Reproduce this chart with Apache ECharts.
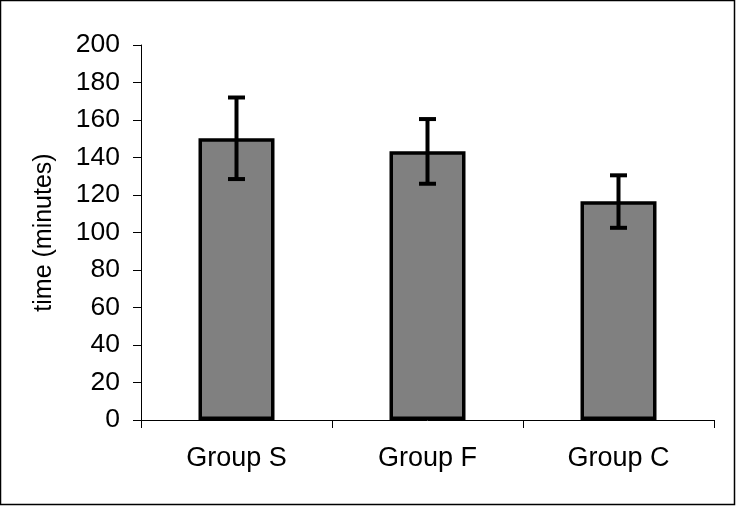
<!DOCTYPE html>
<html><head><meta charset="utf-8">
<script src="https://cdn.jsdelivr.net/npm/echarts@6/dist/echarts.min.js"></script>
<style>html,body{margin:0;padding:0;background:#fff}#c{width:736px;height:506px}</style>
</head><body><div id="c"></div>
<script>
var categories = ['Group S', 'Group F', 'Group C'];
var means = [150.3, 143.3, 116.7];
var errLow = [128.5, 126, 102.5];
var errHigh = [172, 160.5, 130.5];
var yTicks = {min: 0, max: 200, interval: 20};

var chart = echarts.init(document.getElementById('c'), null, {renderer: 'canvas'});
var font = '"Liberation Sans", Arial, Helvetica, sans-serif';
chart.setOption({
  animation: false,
  backgroundColor: '#fff',
  graphic: [{type: 'rect', shape: {x: 0.5, y: 0.5, width: 734, height: 504}, style: {fill: 'none', stroke: '#000', lineWidth: 1.5}, silent: true}],
  grid: {left: 141, right: 22, top: 45, bottom: 86},
  xAxis: {
    type: 'category', data: categories,
    axisLine: {lineStyle: {color: '#000', width: 1}},
    axisTick: {show: true, length: 8, lineStyle: {color: '#000'}},
    axisLabel: {color: '#000', fontSize: 27, fontFamily: font, margin: 25}
  },
  yAxis: {
    type: 'value', min: yTicks.min, max: yTicks.max, interval: yTicks.interval,
    name: 'time (minutes)', nameLocation: 'middle', nameGap: 84,
    nameTextStyle: {color: '#000', fontSize: 25, fontFamily: font},
    axisLine: {show: true, lineStyle: {color: '#000', width: 1}},
    axisTick: {show: true, length: 8, lineStyle: {color: '#000'}},
    axisLabel: {color: '#000', fontSize: 26.5, fontFamily: font, margin: 21},
    splitLine: {show: false}
  },
  series: [{
    type: 'bar', data: means, barWidth: 76,
    itemStyle: {color: '#808080', borderColor: '#000', borderWidth: 3.5}
  }, {
    type: 'custom',
    data: categories.map(function (c, i) { return [i, errLow[i], errHigh[i]]; }),
    renderItem: function (params, api) {
      var lo = api.coord([api.value(0), api.value(1)]);
      var hi = api.coord([api.value(0), api.value(2)]);
      var hw = 8.5;
      var st = {stroke: '#000', lineWidth: 4};
      return {type: 'group', children: [
        {type: 'line', shape: {x1: hi[0], y1: hi[1], x2: lo[0], y2: lo[1]}, style: st},
        {type: 'line', shape: {x1: hi[0] - hw, y1: hi[1], x2: hi[0] + hw, y2: hi[1]}, style: st},
        {type: 'line', shape: {x1: lo[0] - hw, y1: lo[1], x2: lo[0] + hw, y2: lo[1]}, style: st}
      ]};
    },
    z: 10
  }]
});
</script></body></html>
